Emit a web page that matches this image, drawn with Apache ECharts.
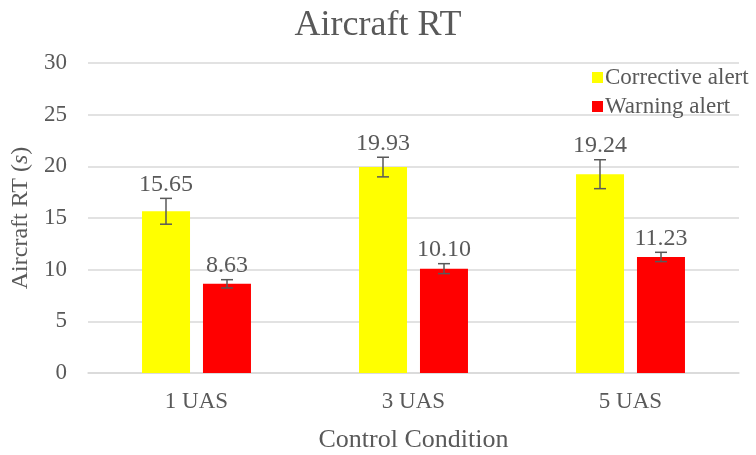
<!DOCTYPE html>
<html>
<head>
<meta charset="utf-8">
<script src="https://cdn.jsdelivr.net/npm/echarts@6/dist/echarts.min.js"></script>
<style>
  html, body { margin: 0; padding: 0; background: #fff; }
  #chart { width: 756px; height: 455px; }
</style>
</head>
<body>
<div id="chart"></div>
<script>
// 数据
var categories = ['1 UAS', '3 UAS', '5 UAS'];
var correctiveRT = [15.65, 19.93, 19.24];
var correctiveErr = [1.25, 0.95, 1.4];
var warningRT = [8.63, 10.10, 11.23];
var warningErr = [0.4, 0.48, 0.45];

var textColor = '#595959';
var font = '"Liberation Serif", "Times New Roman", serif';
var barW = 48;
var offset = 30.5; // 柱中心离类目中心的距离

function errData(vals, errs) {
    return vals.map((v, i) => [i, v - errs[i], v + errs[i], v]);
}

function errRender(shift) {
    return function (params, api) {
        var lo = api.coord([api.value(0), api.value(1)]);
        var hi = api.coord([api.value(0), api.value(2)]);
        var x = lo[0] + shift;
        var cap = 6;
        var st = { stroke: textColor, lineWidth: 1.5 };
        return {
            type: 'group',
            children: [
                { type: 'line', shape: { x1: x, y1: lo[1], x2: x, y2: hi[1] }, style: st },
                { type: 'line', shape: { x1: x - cap, y1: lo[1], x2: x + cap, y2: lo[1] }, style: st },
                { type: 'line', shape: { x1: x - cap, y1: hi[1], x2: x + cap, y2: hi[1] }, style: st },
                {
                    type: 'text',
                    style: {
                        x: x, y: hi[1] - 2,
                        text: api.value(3).toFixed(2),
                        fill: textColor,
                        font: '24px ' + font,
                        textAlign: 'center',
                        textVerticalAlign: 'bottom'
                    }
                }
            ]
        };
    };
}

var chart = echarts.init(document.getElementById('chart'));

var option = {
    animation: false,
    title: {
        text: 'Aircraft RT',
        left: 'center',
        top: 3,
        textStyle: { fontFamily: font, fontSize: 36, fontWeight: 'normal', color: textColor }
    },
    legend: {
        orient: 'vertical',
        left: 587,
        top: 61,
        itemWidth: 11,
        itemHeight: 11,
        itemGap: 6,
        icon: 'rect',
        data: ['Corrective alert', 'Warning alert'],
        textStyle: { fontFamily: font, fontSize: 23, color: textColor, padding: [0, 0, 0, -3] }
    },
    grid: { left: 88, right: 17, top: 63, bottom: 82, outerBoundsMode: 'none', containLabel: false },
    xAxis: {
        type: 'category',
        data: categories,
        name: 'Control Condition',
        nameLocation: 'middle',
        nameGap: 54,
        nameTextStyle: { fontFamily: font, fontSize: 26, color: textColor },
        axisLine: { lineStyle: { color: '#d9d9d9', width: 1.5 } },
        axisTick: { show: false },
        axisLabel: { fontFamily: font, fontSize: 23, color: textColor, margin: 17 }
    },
    yAxis: {
        type: 'value',
        min: 0,
        max: 30,
        interval: 5,
        name: '{a|Aircraft RT (}{i|s}{a|)}',
        nameLocation: 'middle',
        nameGap: 54,
        nameTextStyle: {
            rich: {
                a: { fontFamily: font, fontSize: 24, color: textColor },
                i: { fontFamily: font, fontSize: 24, color: textColor, fontStyle: 'italic' }
            }
        },
        axisLine: { show: false },
        axisTick: { show: false },
        splitLine: { lineStyle: { color: '#d9d9d9', width: 1.5 } },
        axisLabel: { fontFamily: font, fontSize: 23, color: textColor, margin: 21 }
    },
    series: [
        {
            name: 'Corrective alert',
            type: 'bar',
            data: correctiveRT,
            barWidth: barW,
            barGap: '27%',
            itemStyle: { color: '#ffff00' }
        },
        {
            name: 'Warning alert',
            type: 'bar',
            data: warningRT,
            barWidth: barW,
            itemStyle: { color: '#ff0000' }
        },
        {
            type: 'custom',
            data: errData(correctiveRT, correctiveErr),
            renderItem: errRender(-offset),
            z: 10
        },
        {
            type: 'custom',
            data: errData(warningRT, warningErr),
            renderItem: errRender(offset),
            z: 10
        }
    ]
};

option && chart.setOption(option);
</script>
</body>
</html>
